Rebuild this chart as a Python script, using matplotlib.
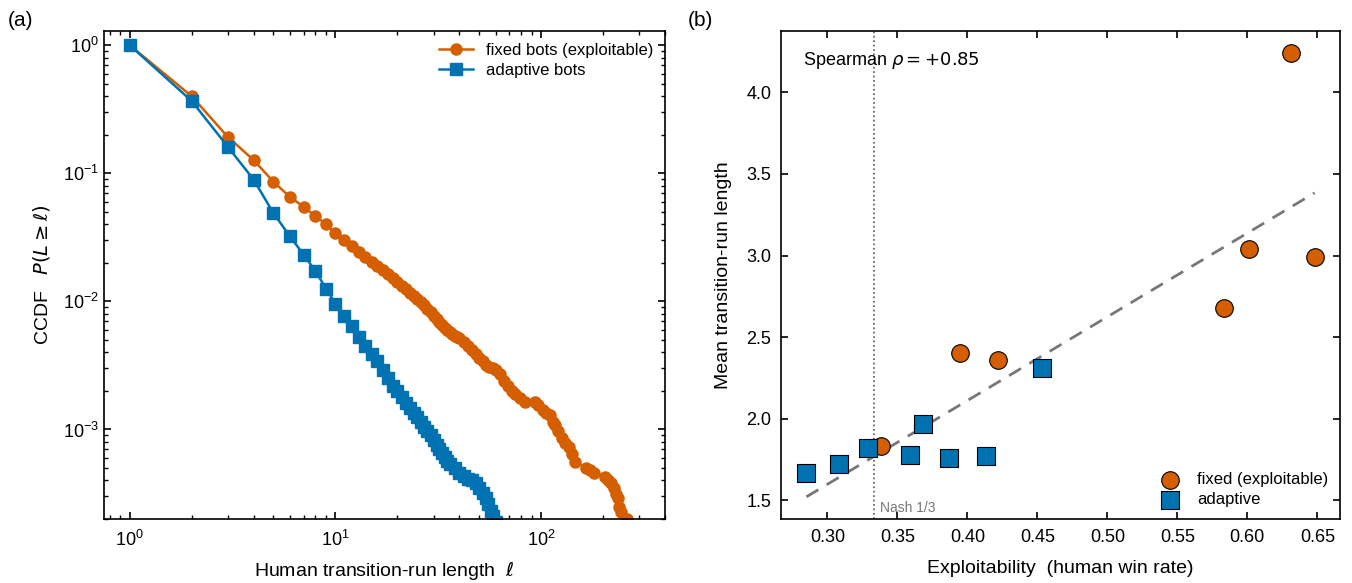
import numpy as np
import matplotlib
matplotlib.use("Agg")
import matplotlib.pyplot as plt

plt.rcParams.update({'font.family': ['Liberation Sans', 'DejaVu Sans'],
                     'mathtext.fontset': 'dejavusans',
                     'font.size': 12,
                     'axes.linewidth': 1.2})

ORANGE = '#D55E00'
BLUE = '#0072B2'

# (a) CCDF of human transition-run lengths
fixed_len = [1, 2, 3, 4, 5, 6, 7, 8, 9, 10, 11, 12, 13, 14, 15, 16, 17, 18, 19, 20,
             21, 22, 23, 24, 25, 26, 27, 28, 29, 30, 31, 32, 33, 34, 35, 36, 37, 38, 39, 40,
             42, 44, 46, 48, 50, 52, 54, 56, 58, 60, 63, 66, 69, 72, 75, 79, 83,
             93, 97, 102, 106, 110, 114, 117, 121, 126, 131, 136, 141, 146,
             165, 172, 180, 205, 212, 218, 225, 232, 236, 240, 243, 262]
fixed_ccdf = [1.0, 0.40, 0.192, 0.127, 0.0857, 0.0655, 0.0547, 0.0463, 0.0400, 0.0343,
              0.0304, 0.0270, 0.0244, 0.0222, 0.0203, 0.0189, 0.0175, 0.0163, 0.0151, 0.0141,
              0.0132, 0.0124, 0.0117, 0.0111, 0.0105, 0.0099, 0.0093, 0.0087, 0.0082, 0.0077,
              0.0073, 0.0069, 0.0065, 0.0062, 0.0060, 0.0058, 0.0056, 0.0054, 0.0053, 0.0052,
              0.0048, 0.0045, 0.0042, 0.0039, 0.0036, 0.0034, 0.0032, 0.0031, 0.0030, 0.0029,
              0.0027, 0.0024, 0.0022, 0.0020, 0.0019, 0.00175, 0.00164,
              0.00165, 0.00155, 0.00142, 0.00135, 0.00129, 0.00115, 0.00108, 0.00097, 0.00085,
              0.00079, 0.00073, 0.00064, 0.00056,
              0.000500, 0.000480, 0.000458, 0.000427, 0.000405, 0.000380, 0.000350, 0.000315,
              0.000290, 0.000250, 0.000225, 0.000200]

adapt_len = [1, 2, 3, 4, 5, 6, 7, 8, 9, 10, 11, 12, 13, 14, 15, 16, 17, 18, 19, 20,
             21, 22, 23, 24, 25, 26, 27, 28, 29, 30, 31, 32, 33, 34, 35, 36, 38, 40, 42, 44,
             46, 48, 50, 52, 54, 55, 57, 58, 60]
adapt_ccdf = [1.0, 0.367, 0.161, 0.0894, 0.0488, 0.0323, 0.0232, 0.0172, 0.0126, 0.0096,
              0.0077, 0.0064, 0.0053, 0.0045, 0.0039, 0.0034, 0.0029, 0.0025, 0.0022, 0.0020,
              0.0018, 0.0016, 0.00146, 0.00135, 0.00126, 0.00115, 0.00105, 0.00097, 0.00090, 0.00082,
              0.00076, 0.00070, 0.00066, 0.00061, 0.00057, 0.00054, 0.00050, 0.00046, 0.00043, 0.00041,
              0.00040, 0.00038, 0.00035, 0.00032, 0.00029, 0.00026, 0.00023, 0.00021, 0.00019]

# (b) per-bot exploitability vs mean run length
fixed_expl = [0.338, 0.395, 0.422, 0.583, 0.601, 0.631, 0.648]
fixed_mean = [1.83, 2.40, 2.36, 2.68, 3.04, 4.24, 2.99]
adapt_expl = [0.285, 0.308, 0.329, 0.359, 0.368, 0.387, 0.413, 0.453]
adapt_mean = [1.67, 1.72, 1.82, 1.78, 1.97, 1.76, 1.77, 2.31]
spearman_text = r'Spearman $\rho = +0.85$'

fig = plt.figure(figsize=(13.52, 5.83), dpi=100)
ax1 = fig.add_axes([0.0769, 0.1098, 0.415, 0.837])
ax2 = fig.add_axes([0.5777, 0.1098, 0.4134, 0.837])

# ---- panel (a)
ax1.loglog(fixed_len, fixed_ccdf, '-o', color=ORANGE, ms=8, lw=1.8,
           label='fixed bots (exploitable)')
ax1.loglog(adapt_len, adapt_ccdf, '-s', color=BLUE, ms=8, lw=1.8,
           label='adaptive bots')
ax1.set_xlim(0.75, 400)
ax1.set_ylim(2e-4, 1.29)
ax1.set_xlabel(r'Human transition-run length  $\ell$', fontsize=14, labelpad=6)
ax1.set_ylabel(r'CCDF   $P(L \geq \ell)$', fontsize=14, labelpad=8)
ax1.legend(loc='upper right', frameon=False, fontsize=12, handlelength=2,
           borderaxespad=0.3, labelspacing=0.3)
ax1.tick_params(which='both', direction='in', top=True, right=True, labelsize=13, width=1.2)
ax1.tick_params(which='major', length=5)
ax1.tick_params(which='minor', length=3, width=1)
ax1.tick_params(axis='x', pad=8)

# ---- panel (b)
ax2.axvline(1 / 3, color='#555555', ls=':', lw=1.2, zorder=1)
all_x = np.array(fixed_expl + adapt_expl)
all_y = np.array(fixed_mean + adapt_mean)
slope, icpt = np.polyfit(all_x, all_y, 1)
xx = np.array([all_x.min(), all_x.max()])
ax2.plot(xx, slope * xx + icpt, '--', color='#777777', lw=2, dashes=(5, 3.5), zorder=2)
ax2.scatter(fixed_expl, fixed_mean, s=160, marker='o', color=ORANGE,
            edgecolor='black', linewidth=0.8, zorder=3, label='fixed (exploitable)')
ax2.scatter(adapt_expl, adapt_mean, s=160, marker='s', color=BLUE,
            edgecolor='black', linewidth=0.8, zorder=3, label='adaptive')
ax2.set_xticks([0.30, 0.35, 0.40, 0.45, 0.50, 0.55, 0.60, 0.65])
ax2.set_yticks([1.5, 2.0, 2.5, 3.0, 3.5, 4.0])
ax2.text(0.04, 0.94, spearman_text, transform=ax2.transAxes, fontsize=13,
         va='center', ha='left')
ax2.text(1 / 3 + 0.004, 1.455, 'Nash 1/3', color='#777777', fontsize=10, va='center')
ax2.set_xlabel('Exploitability  (human win rate)', fontsize=14, labelpad=10)
ax2.set_ylabel('Mean transition-run length', fontsize=14, labelpad=10)
ax2.legend(loc='lower right', frameon=False, fontsize=12, handletextpad=0.6,
           borderaxespad=0.3, labelspacing=0.3)
ax2.tick_params(direction='in', top=True, right=True, length=5, width=1.2,
                labelsize=13, pad=7)

fig.text(0.006, 0.965, '(a)', fontsize=15, va='center')
fig.text(0.509, 0.965, '(b)', fontsize=15, va='center')

fig.savefig('out.png', dpi=100)
